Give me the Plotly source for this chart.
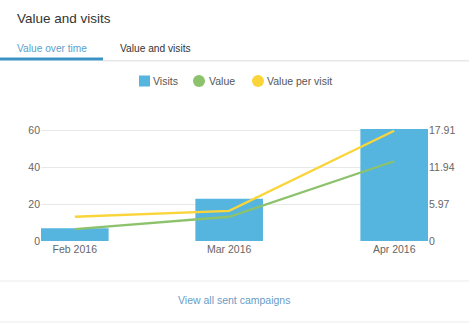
import datetime as dt
import plotly.graph_objects as go

# ---- data ----
months = ["Feb 2016", "Mar 2016", "Apr 2016"]
month_starts = ["2016-02-01", "2016-03-01", "2016-04-01"]
visits = [7, 23, 61]
value = [1.94, 3.94, 12.96]
value_per_visit = [3.94, 4.9, 17.91]
series_names = ["Visits", "Value", "Value per visit"]
left_ticks = [0, 20, 40, 60]
right_ticks = [0, 5.97, 11.94, 17.91]

# ---- styling ----
W, H = 469, 323
ML, MR, MT, MB = 41, 41, 128, 82
BAR_C = "#55b5df"
GREEN = "#8dc26c"
YELLOW = "#f9d53a"
FONT = "Liberation Sans, Arial, sans-serif"
TICK_C = "#666666"

PW = W - ML - MR
PH = H - MT - MB


def px_x(x):
    return (x - ML) / PW


def px_y(y):
    return (H - MB - y) / PH


left_max = 61.5
right_max = left_max * right_ticks[-1] / left_ticks[-1]

# time axis: bars are a fixed number of days wide, axis padded by half a bar
bar_days = 12.7
DAY_MS = 86400000
first = dt.datetime.fromisoformat(month_starts[0])
last = dt.datetime.fromisoformat(month_starts[-1])
pad = dt.timedelta(days=bar_days / 2)
x_range = [(first - pad).isoformat(), (last + pad).isoformat()]

fig = go.Figure()
fig.add_trace(go.Bar(
    x=month_starts, y=visits, name=series_names[0], marker_color=BAR_C,
    marker_line_width=0, width=bar_days * DAY_MS, yaxis="y",
    showlegend=False,
))
fig.add_trace(go.Scatter(
    x=month_starts, y=value, name=series_names[1], mode="lines",
    line=dict(color=GREEN, width=2.3), yaxis="y2", showlegend=False,
))
fig.add_trace(go.Scatter(
    x=month_starts, y=value_per_visit, name=series_names[2], mode="lines",
    line=dict(color=YELLOW, width=2.3), yaxis="y2", showlegend=False,
))

shapes = []
annotations = []


def text(px, py, s, size, color, anchor="left"):
    annotations.append(dict(
        x=px_x(px), y=px_y(py), xref="paper", yref="paper", text=s,
        showarrow=False, xanchor=anchor, yanchor="middle",
        font=dict(family=FONT, size=size, color=color), borderpad=0,
    ))


def rect(x0, y0, x1, y1, color):
    shapes.append(dict(
        type="rect", xref="paper", yref="paper",
        x0=px_x(x0), x1=px_x(x1), y0=px_y(y0), y1=px_y(y1),
        fillcolor=color, line_width=0, layer="above",
    ))


def circle(cx, cy, r, color):
    shapes.append(dict(
        type="circle", xref="paper", yref="paper",
        x0=px_x(cx - r), x1=px_x(cx + r), y0=px_y(cy + r), y1=px_y(cy - r),
        fillcolor=color, line_width=0, layer="above",
    ))


# header
text(16, 18, "Value and visits", 13.5, "#333333")
text(16, 48, "Value over time", 10.2, "#5b9fcc")
text(119, 48, "Value and visits", 10.2, "#333333")
rect(103, 60, W, 61.5, "#e8e8e8")
rect(0, 57.5, 103, 60.5, "#3b92c5")

# legend
rect(139, 75.5, 150, 86.5, BAR_C)
text(152, 81, series_names[0], 10.5, "#555555")
circle(199, 81, 6, GREEN)
text(208, 81, series_names[1], 10.5, "#555555")
circle(258, 81, 6, YELLOW)
text(266, 81, series_names[2], 10.5, "#555555")

# footer
rect(0, 280.5, W, 281.5, "#ececec")
rect(0, 321.5, W, 322.5, "#ececec")
text(234, 300, "View all sent campaigns", 10.5, "#6a9cc6", anchor="center")

fig.update_layout(
    width=W, height=H,
    margin=dict(l=ML, r=MR, t=MT, b=MB, pad=0),
    paper_bgcolor="white", plot_bgcolor="white",
    showlegend=False,
    xaxis=dict(
        type="date", range=x_range,
        tickvals=month_starts, ticktext=months,
        showgrid=False, zeroline=False, showline=False, ticks="",
        tickfont=dict(family=FONT, size=10.5, color=TICK_C),
        fixedrange=True,
    ),
    yaxis=dict(
        range=[0, left_max], tickvals=left_ticks,
        ticktext=[str(v) for v in left_ticks],
        showgrid=True, gridcolor="#e8e8e8", gridwidth=1,
        zeroline=False, showline=False, ticks="",
        tickfont=dict(family=FONT, size=10.5, color=TICK_C),
        fixedrange=True,
    ),
    yaxis2=dict(
        range=[0, right_max], tickvals=right_ticks,
        ticktext=[f"{v:g}" for v in right_ticks],
        overlaying="y", side="right", showgrid=False,
        zeroline=False, showline=False, ticks="",
        tickfont=dict(family=FONT, size=10.5, color=TICK_C),
        fixedrange=True,
    ),
    shapes=shapes,
    annotations=annotations,
)

fig.write_html("out.html", config={"displayModeBar": False})
